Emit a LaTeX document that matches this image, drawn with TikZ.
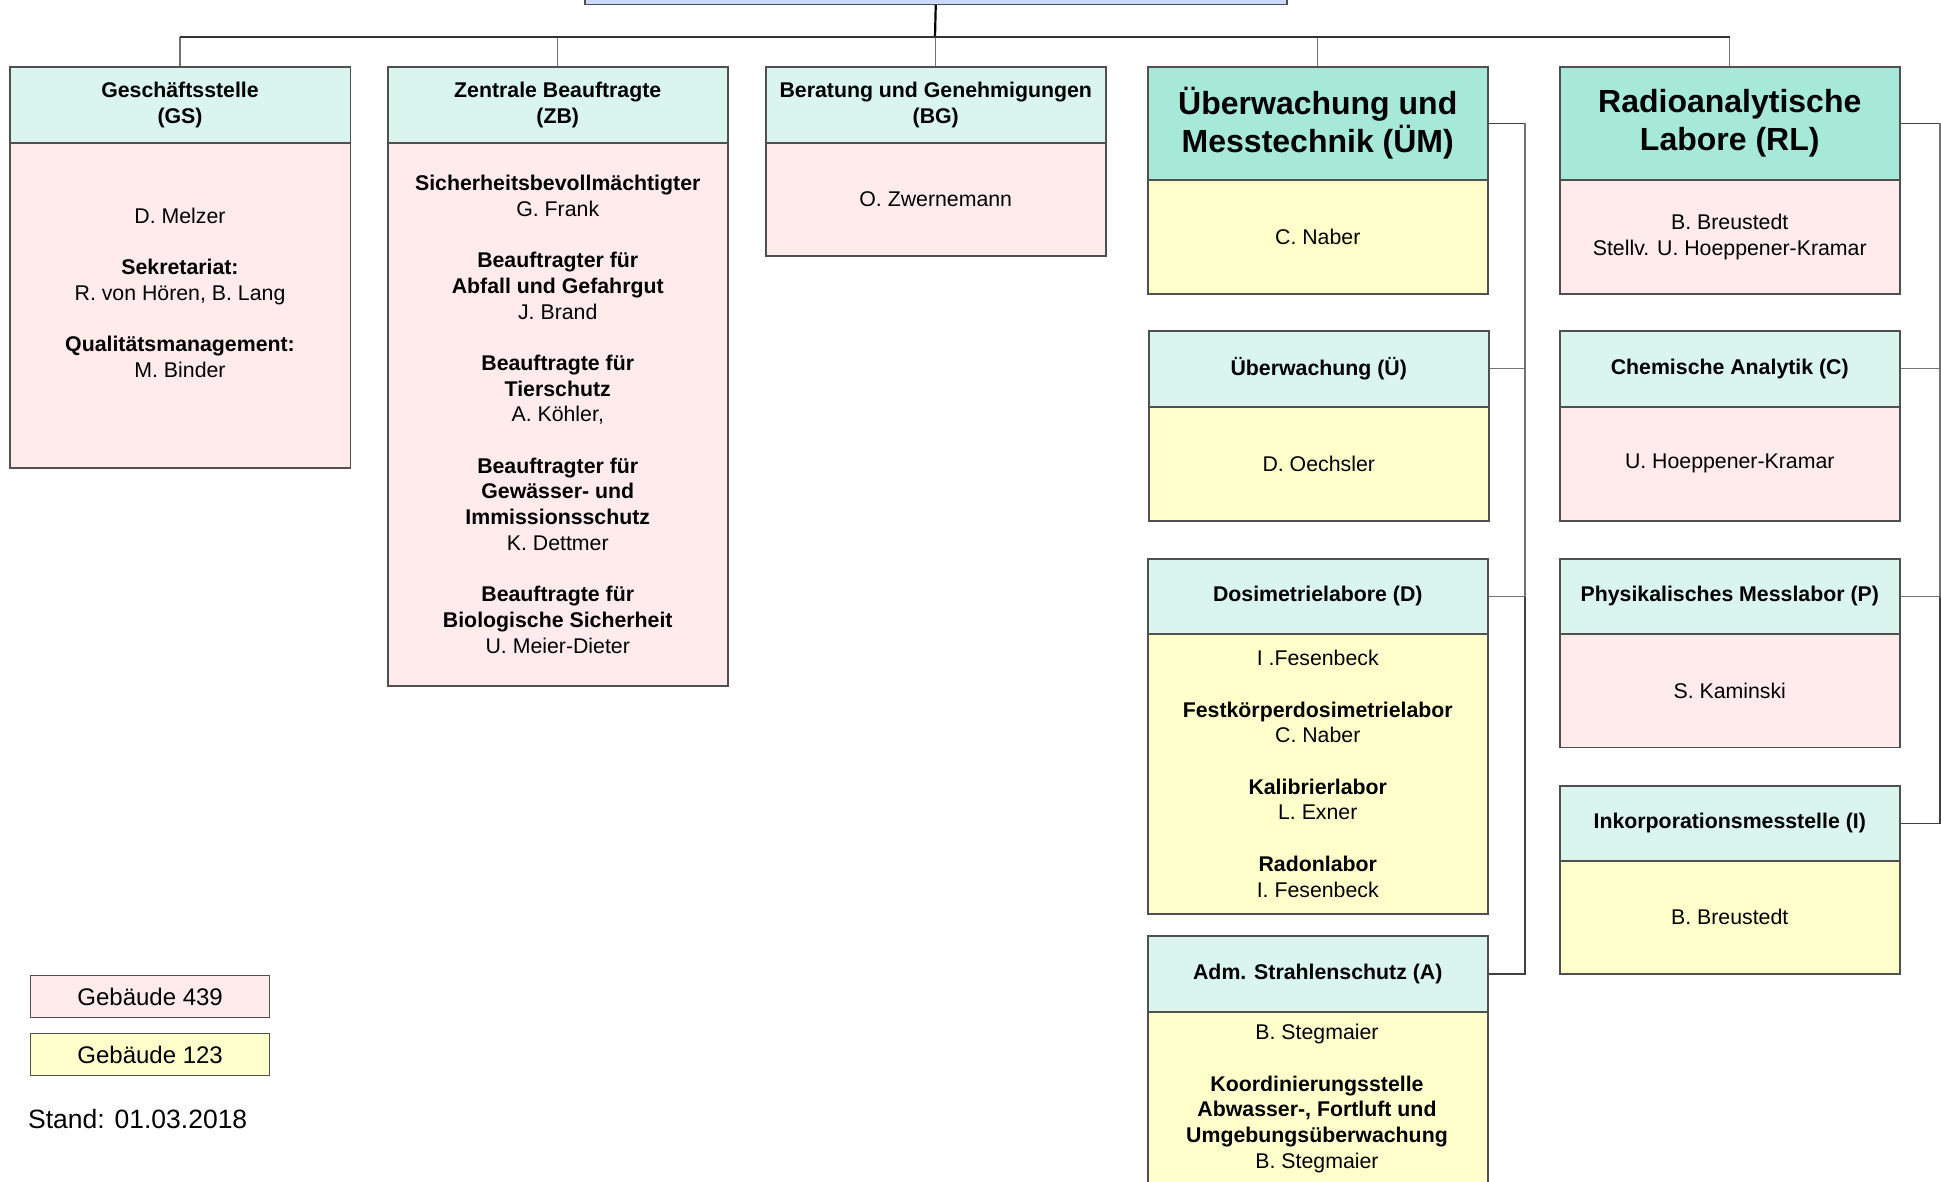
\documentclass[tikz,border=0pt]{standalone}
\usepackage{fontspec}
\setmainfont{Liberation Sans}
\definecolor{mint}{HTML}{D9F5EE}
\definecolor{mintd}{HTML}{A6E9D9}
\definecolor{pinkb}{HTML}{FFEBEB}
\definecolor{yelb}{HTML}{FFFFCC}
\definecolor{lav}{HTML}{CCD9FF}
\definecolor{bord}{HTML}{505050}
\begin{document}
\begin{tikzpicture}[x=1pt,y=-1pt,
  box/.style={draw=bord, line width=1.5pt, inner sep=0pt, anchor=north west, align=center,
              font=\fontsize{21.3}{25.7}\selectfont},
  sz/.style 2 args={minimum width=#1, minimum height=#2},
  hd/.style={box, fill=mint, font=\bfseries\fontsize{21.3}{25.7}\selectfont},
  hdbig/.style={box, fill=mintd, font=\bfseries\fontsize{32}{38.5}\selectfont},
  pk/.style={box, fill=pinkb},
  yl/.style={box, fill=yelb},
  mainline/.style={draw=black, line width=2.2pt},
  barline/.style={draw=black!80, line width=1.6pt},
  conn/.style={draw=black!55, line width=1.4pt},
  spine/.style={draw=black!75, line width=1.5pt},
]
\useasboundingbox (0,0) rectangle (1941,1181);
\clip (0,0) rectangle (1941,1181);

% top box (cut off)
\node[draw=bord, fill=lav, line width=1.5pt, inner sep=0pt, minimum width=702, minimum height=60, anchor=south west] (top) at (584,5) {};

% level 1
\node[hd, sz={340.5}{76}] (GSh) at (9,66) {Geschäftsstelle\\(GS)};
\node[pk, sz={340.5}{325}] (GSb) at (9,142) {D. Melzer\\[25.7pt]\textbf{Sekretariat:}\\R. von Hören, B. Lang\\[25.7pt]\textbf{Qualitätsmanagement:}\\M. Binder\\ \mbox{}};

\node[hd, sz={340}{76}] (ZBh) at (387,66) {Zentrale Beauftragte\\(ZB)};
\node[pk, sz={340}{543}] (ZBb) at (387,142) {\textbf{Sicherheitsbevollmächtigter}\\G. Frank\\[25.7pt]\textbf{Beauftragter für}\\\textbf{Abfall und Gefahrgut}\\J. Brand\\[25.7pt]\textbf{Beauftragte für}\\\textbf{Tierschutz}\\A. Köhler,\\[25.7pt]\textbf{Beauftragter für}\\\textbf{Gewässer- und}\\\textbf{Immissionsschutz}\\K. Dettmer\\[25.7pt]\textbf{Beauftragte für}\\\textbf{Biologische Sicherheit}\\U. Meier-Dieter};

\node[hd, sz={340}{76}] (BGh) at (765,66) {Beratung und Genehmigungen\\(BG)};
\node[pk, sz={340}{113}] (BGb) at (765,142) {O. Zwernemann};

\node[hdbig, sz={340}{113}] (UMh) at (1147,66) {Überwachung und\\Messtechnik (ÜM)};
\node[yl, sz={340}{114}] (UMb) at (1147,179) {C. Naber};

\node[hdbig, sz={340}{113}] (RLh) at (1559,66) {Radioanalytische\\Labore (RL)};
\node[pk, sz={340}{114}] (RLb) at (1559,179) {B. Breustedt\\Stellv. U. Hoeppener-Kramar};

% left column
\node[hd, sz={340}{76}] (Uh) at (1148,330) {Überwachung (Ü)};
\node[yl, sz={340}{114}] (Ub) at (1148,406) {D. Oechsler};

\node[hd, sz={340}{75}] (Dh) at (1147,558) {Dosimetrielabore (D)};
\node[yl, sz={340}{280}] (Db) at (1147,633) {I .Fesenbeck\\[25.7pt]\textbf{Festkörperdosimetrielabor}\\C. Naber\\[25.7pt]\textbf{Kalibrierlabor}\\L. Exner\\[25.7pt]\textbf{Radonlabor}\\I. Fesenbeck};

\node[hd, sz={340}{76}] (Ah) at (1147,935) {Adm. Strahlenschutz (A)};
\node[yl, sz={340}{260}] (Ab) at (1147,1011) {};
\node[anchor=north, inner sep=0pt, align=center, font=\fontsize{21.3}{25.7}\selectfont] (At) at (1317,1024) {B. Stegmaier\\[25.7pt]\textbf{Koordinierungsstelle}\\\textbf{Abwasser-, Fortluft und}\\\textbf{Umgebungsüberwachung}\\B. Stegmaier};

% right column
\node[hd, sz={340}{76}] (Ch) at (1559,330) {Chemische Analytik (C)};
\node[pk, sz={340}{114}] (Cb) at (1559,406) {U. Hoeppener-Kramar};

\node[hd, sz={340}{75}] (Ph) at (1559,558) {Physikalisches Messlabor (P)};
\node[pk, sz={340}{113.5}] (Pb) at (1559,633) {S. Kaminski};

\node[hd, sz={340}{75}] (Ih) at (1559,785) {Inkorporationsmesstelle (I)};
\node[yl, sz={340}{113}] (Ib) at (1559,860) {B. Breustedt};

% legend
\node[pk, sz={239}{42}, line width=1.3pt, font=\fontsize{24}{28}\selectfont] (L1) at (30,975) {Gebäude 439};
\node[yl, sz={239}{42}, line width=1.3pt, font=\fontsize{24}{28}\selectfont] (L2) at (30,1033) {Gebäude 123};
\node[anchor=base west, inner sep=0pt, font=\fontsize{26.5}{31}\selectfont] (stand) at (28,1128) {Stand: 01.03.2018};

% connectors
\coordinate (bar) at (935,37);
\coordinate (sL) at (1525,0);
\coordinate (sR) at (1940,0);
\draw[mainline] (top.south) -- (bar);
\foreach \n in {GSh,ZBh,BGh,UMh,RLh}{
  \draw[conn] (\n.north) -- (\n.north |- bar);
}
\draw[barline] (GSh.north |- bar) -- (RLh.north |- bar);

\draw[spine] (UMh.east) -- (UMh.east -| sL) |- (Ah.east);
\draw[conn] (UMh.east -| sL) |- (Uh.east);
\draw[conn] (UMh.east -| sL) |- (Dh.east);

\draw[spine] (RLh.east) -- (RLh.east -| sR) |- (Ih.east);
\draw[conn] (RLh.east -| sR) |- (Ch.east);
\draw[conn] (RLh.east -| sR) |- (Ph.east);
\end{tikzpicture}
\end{document}
